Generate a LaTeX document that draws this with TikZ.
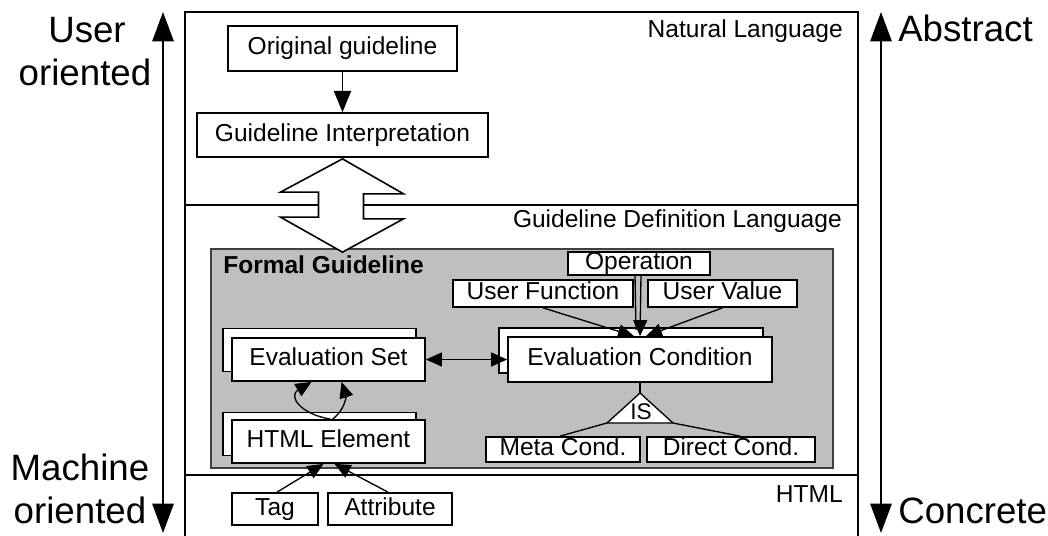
\documentclass[tikz,border=0pt]{standalone}
\usepackage{fontspec}
\setmainfont{Liberation Sans}
\usetikzlibrary{arrows.meta,calc}

\tikzset{
  txt/.style={font=\fontsize{18.4}{20}\selectfont},
  bigtxt/.style={font=\fontsize{27.5}{30}\selectfont, inner sep=0pt},
  lbl/.style={txt, inner sep=0pt},
  blk/.style 2 args={draw, line width=1.3pt, fill=white, inner sep=0pt,
    minimum width=#1*0.75pt, minimum height=#2*0.75pt, txt,
    text height=13pt, text depth=3.6pt},
  rule/.style={line width=1.2pt},
  arr/.style={line width=1pt, -{Triangle[length=12pt,width=10.5pt]}},
  arrboth/.style={line width=1pt, {Triangle[length=12pt,width=10.5pt]}-{Triangle[length=12pt,width=10.5pt]}},
  bigarr/.style={line width=1.3pt, {Triangle[length=22pt,width=16pt]}-{Triangle[length=22pt,width=16pt]}},
}

\begin{document}
\begin{tikzpicture}[x=0.75pt,y=-0.75pt]
\useasboundingbox (0,0) rectangle (1048,535);
\fill[white] (0,0) rectangle (1048,535);

% layer frame
\draw[rule] (185,536) -- (185,12) -- (858,12) -- (858,536);
\draw[rule] (185,205) -- (858,205);
\draw[rule] (185,475) -- (858,475);
\node[lbl, anchor=base east] (lnat) at (843,38) {Natural Language};
\node[lbl, anchor=base east] (lgdl) at (842,227) {Guideline Definition Language};
\node[lbl, anchor=base east] (lhtml) at (843,502) {HTML};

% natural language layer
\node[blk={229}{45}] (orig) at (342.5,48.5) {Original guideline};
\node[blk={291}{44}] (interp) at (342.5,135) {Guideline Interpretation};
\draw[line width=1pt, -{Triangle[length=16pt,width=13pt]}] (orig.south) -- (interp.north);

% formal guideline panel
\node[draw=black!75, line width=1.3pt, fill=black!25, inner sep=0pt,
  minimum width=622*0.75pt, minimum height=219*0.75pt] (fg) at (522,358.5) {};
\node[lbl, font={\fontsize{18.4}{20}\selectfont\bfseries}, anchor=base west] (fgl) at (223,273) {Formal Guideline};

% hollow double arrow between the two layers
\draw[line width=1.2pt, fill=white, line join=miter]
  ($(interp.south)+(0,1)$) -- ++(61,35) -- ++(-40,0) -- ++(0,25) -- ++(40,0)
  -- ($(fg.north)+(-179.5,4)$) -- ++(-62,-35) -- ++(38,0) -- ++(0,-25) -- ++(-38,0) -- cycle;

% operation inputs
\node[blk={142}{23}] (op) at (639,263.5) {Operation};
\node[blk={180}{27}] (uf) at (543,293.5) {User Function};
\node[blk={149}{27}] (uv) at (722.5,293.5) {User Value};

% evaluation condition (stacked)
\node[blk={264}{45}] (ecb) at (631,350.5) {};
\node[blk={264}{45}] (ec) at (640,359.5) {Evaluation Condition};

% evaluation set (stacked)
\node[blk={193}{43}] (esb) at (319.5,350) {};
\node[blk={193}{43}] (es) at (328.5,359.5) {Evaluation Set};

% HTML element (stacked)
\node[blk={193}{43}] (heb) at (319.5,434) {};
\node[blk={193}{43}] (he) at (328.5,441.5) {HTML Element};

% condition kinds
\node[blk={154}{25}] (meta) at (563,449.5) {Meta Cond.};
\node[blk={168}{25}] (direct) at (731,449.5) {Direct Cond.};

% html sources
\node[blk={86}{32}] (tag) at (275,509) {Tag};
\node[blk={124}{32}] (attr) at (390,509) {Attribute};

% IS specialisation triangle
\coordinate (isapex) at (640,393);
\coordinate (isleft) at (607,423);
\coordinate (isright) at (673,423);
\draw[line width=1pt] (ec.south) -- (isapex);
\draw[line width=1pt, fill=white, line join=miter] (isapex) -- (isright) -- (isleft) -- cycle;
\node[font=\fontsize{17}{18}\selectfont, inner sep=0pt, anchor=base] (isl) at (641,419) {IS};
\draw[line width=1pt] (isleft) -- ($(meta.north)+(-3,0)$);
\draw[line width=1pt] (isright) -- ($(direct.north)+(9,0)$);

% inputs to the evaluation condition
\draw[line width=1pt] ($(op.south)+(-4,0)$) -- ($(ec.north)+(-4,-6)$);
\draw[arr] ($(op.south)+(2,0)$) -- ($(ec.north)+(0,0)$);
\draw[arr] (uf.south) -- ($(ec.north)+(-6,0)$);
\draw[arr] (uv.south) -- ($(ec.north)+(6,0)$);

% set <-> condition
\draw[arrboth] (es.east) -- (ec.west);

% html element feeds the evaluation set
\draw[arr] ($(he.north)+(2,0)$) .. controls (300,414) and (288,396) .. ($(es.south)+(-17,0)$);
\draw[arr] ($(he.north)+(4,0)$) .. controls (345,410) and (346,396) .. ($(es.south)+(13,0)$);

% tag / attribute into html element
\draw[arr] ($(tag.north)+(2,0)$) -- ($(he.south)+(-5,0)$);
\draw[arr] ($(attr.north)+(-2,0)$) -- ($(he.south)+(6,0)$);

% side scales
\coordinate (ltop) at (163,12);
\coordinate (lbot) at (163,533);
\coordinate (rtop) at (881,12);
\coordinate (rbot) at (881,533);
\draw[bigarr] (lbot) -- (ltop);
\draw[bigarr] (rbot) -- (rtop);

\node[bigtxt, anchor=base] (uo1) at (87,43) {User};
\node[bigtxt, anchor=base] (uo2) at (85,85) {oriented};
\node[bigtxt, anchor=base] (mo1) at (80,480) {Machine};
\node[bigtxt, anchor=base] (mo2) at (80,523) {oriented};
\node[bigtxt, anchor=base west] (abs) at (898,42) {Abstract};
\node[bigtxt, anchor=base west] (con) at (898,523) {Concrete};
\end{tikzpicture}
\end{document}
